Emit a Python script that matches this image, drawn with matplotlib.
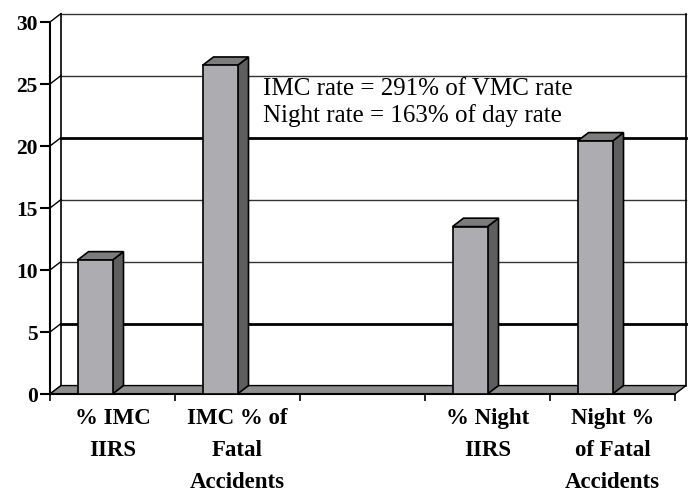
import numpy as np
import matplotlib
matplotlib.use('Agg')
import matplotlib.pyplot as plt
from matplotlib.patches import Polygon, Rectangle

# data
categories = ['% IMC\nIIRS', 'IMC % of\nFatal\nAccidents', '',
              '% Night\nIIRS', 'Night %\nof Fatal\nAccidents']
values = [10.8, 26.5, np.nan, 13.5, 20.4]
yticks = [0, 5, 10, 15, 20, 25, 30]
note = 'IMC rate = 291% of VMC rate\nNight rate = 163% of day rate'

plt.rcParams['font.family'] = ['Liberation Serif', 'DejaVu Serif']

fig = plt.figure(figsize=(6.88, 4.96), dpi=100)
ax = fig.add_axes([50 / 688, 102 / 496, 638 / 688, 394 / 496])
ax.set_xlim(0, 638 / 125)
ax.set_ylim(0, 394 / 12.4)

n = len(categories)
ymax = yticks[-1]
dx, dy = 0.088, 0.68   # depth offset of the fake 3d look

# back wall: gridlines and edges
for v in yticks[1:]:
    thick = v in (5, 20)
    ax.plot([dx, n + dx], [v + dy, v + dy], color='black' if thick else '#333333',
            lw=2.0 if thick else 1.0, zorder=1, clip_on=False)
for v in yticks:
    ax.plot([0, dx], [v, v + dy], color='black', lw=1.0, zorder=1, clip_on=False)
ax.plot([dx, dx], [dy, ymax + dy], color='black', lw=1.2, zorder=1)
ax.plot([n + dx, n + dx], [dy, ymax + dy], color='black', lw=1.2, zorder=1, clip_on=False)

# floor
ax.add_patch(Polygon([(0, 0), (n, 0), (n + dx, dy), (dx, dy)], closed=True,
                     facecolor='#8e8e8e', edgecolor='black', lw=1.0, zorder=2))

# bars
for i, v in enumerate(values):
    if np.isnan(v):
        continue
    left, right = i + 0.22, i + 0.5
    ax.add_patch(Polygon([(right, 0), (right + dx, dy), (right + dx, v + dy), (right, v)],
                         closed=True, facecolor='#5e5e5e', edgecolor='black', lw=1.2, zorder=3))
    ax.add_patch(Polygon([(left, v), (left + dx, v + dy), (right + dx, v + dy), (right, v)],
                         closed=True, facecolor='#7c7c7c', edgecolor='black', lw=1.2, zorder=3))
    ax.add_patch(Rectangle((left, 0), right - left, v, facecolor='#adadb1',
                           edgecolor='black', lw=1.2, zorder=3))

ax.text(1.704, 25.5, note, ha='left', va='top', fontsize=18, linespacing=1.22, zorder=4)

# category labels
for i, lab in enumerate(categories):
    ax.text(i + 0.5, -1.1, lab, ha='center', va='top', fontsize=16.5,
            fontweight='bold', linespacing=1.7)

# axes
for s in ['top', 'right']:
    ax.spines[s].set_visible(False)
ax.spines['left'].set_bounds(0, ymax)
ax.spines['bottom'].set_bounds(0, n)
ax.spines['left'].set_linewidth(1.5)
ax.spines['bottom'].set_linewidth(1.5)
ax.set_yticks(yticks)
ax.set_yticklabels([str(t) for t in yticks], fontsize=15.5, fontweight='bold')
ax.set_xticks(range(n + 1))
ax.set_xticklabels([])
ax.tick_params(axis='y', direction='out', length=7, width=1.5, pad=2)
ax.tick_params(axis='x', direction='out', length=5, width=1.2)
ax.patch.set_visible(False)

fig.savefig('out.png', dpi=100)
